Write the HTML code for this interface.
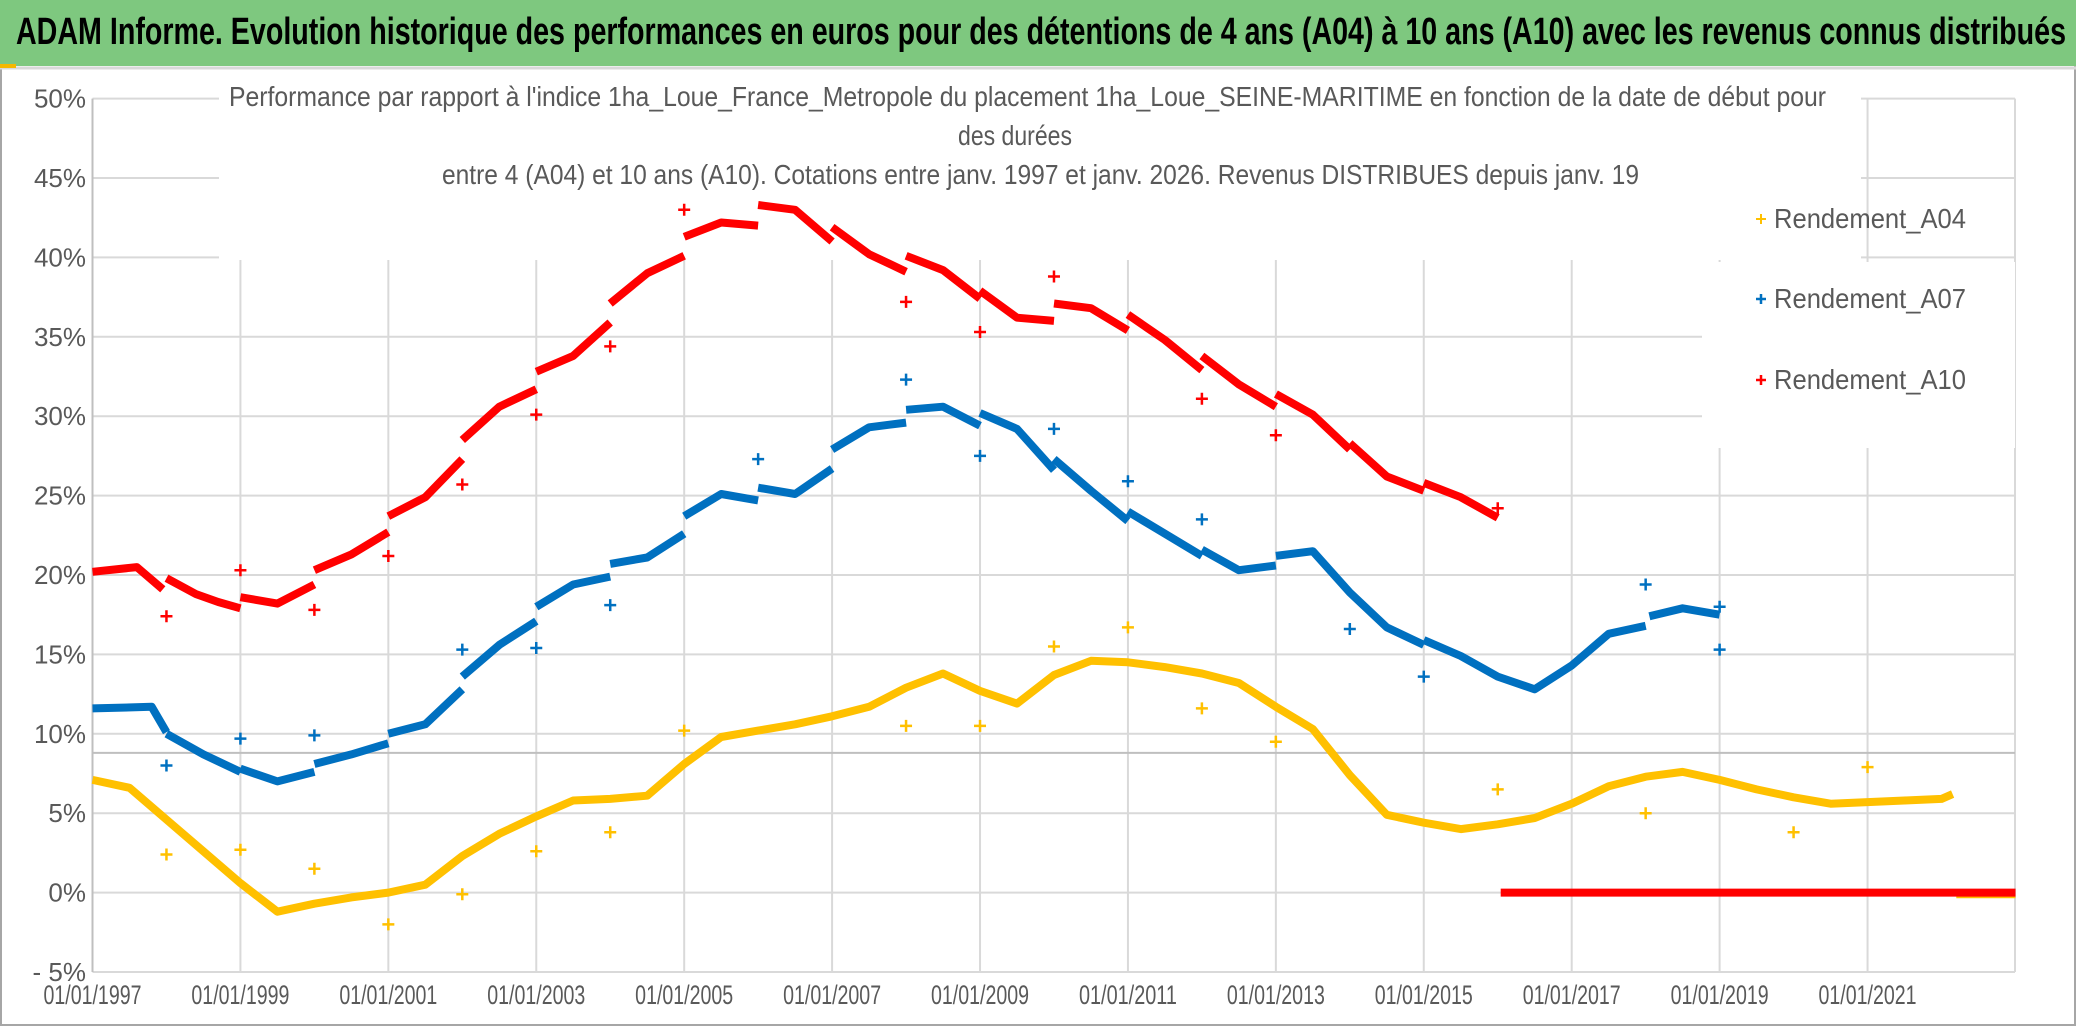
<!DOCTYPE html>
<html><head><meta charset="utf-8"><style>
html,body{margin:0;padding:0;background:#fff;}
svg{display:block;}
text{font-family:"Liberation Sans Narrow","Liberation Sans",sans-serif;}
</style></head><body>
<svg id="chart" width="2086" height="1031" viewBox="0 0 2086 1031" xmlns="http://www.w3.org/2000/svg">
<rect x="0" y="0" width="2086" height="1031" fill="#fff"/>
<rect x="1" y="1" width="2074" height="1024" fill="none" stroke="#a6a6a6" stroke-width="2"/>
<rect x="0" y="0" width="2076" height="66" fill="#7ec87f"/>
<line x1="0" y1="68" x2="2076" y2="68" stroke="#d9d9d9" stroke-width="3"/>
<rect x="0" y="64" width="16" height="4" fill="#f5b800"/>
<text x="16" y="44" font-size="38" font-weight="bold" fill="#000" textLength="2050" lengthAdjust="spacingAndGlyphs">ADAM Informe. Evolution historique des performances en euros pour des détentions de 4 ans (A04) à 10 ans (A10) avec les revenus connus distribués</text>
<g id="grid"></g>
<g id="axes"></g>
<rect x="219" y="76" width="1642" height="184" fill="#fff"/>
<rect x="1702" y="262" width="313" height="186" fill="#fff"/>
<g fill="#595959" font-size="28">
<text x="229" y="106" textLength="1597" lengthAdjust="spacingAndGlyphs">Performance  par rapport à l'indice 1ha_Loue_France_Metropole  du placement 1ha_Loue_SEINE-MARITIME en fonction de la date de début pour</text>
<text x="958" y="145" textLength="114" lengthAdjust="spacingAndGlyphs">des durées</text>
<text x="442" y="184" textLength="1197" lengthAdjust="spacingAndGlyphs">entre 4 (A04) et 10 ans (A10). Cotations entre janv. 1997 et janv. 2026. Revenus DISTRIBUES depuis janv. 19</text>
</g>
<g id="series"></g>
<g font-size="28" fill="#595959">
<g>
<path d="M1756 219 h10 M1761 214 v10" stroke="#ffc000" stroke-width="2"/>
<text x="1774" y="219" dy="9" textLength="192" lengthAdjust="spacingAndGlyphs">Rendement_A04</text></g>
<g>
<path d="M1756 299 h10 M1761 294 v10" stroke="#0070c0" stroke-width="2.5"/>
<text x="1774" y="299" dy="9" textLength="192" lengthAdjust="spacingAndGlyphs">Rendement_A07</text></g>
<g>
<path d="M1756 380 h10 M1761 375 v10" stroke="#ff0000" stroke-width="2.5"/>
<text x="1774" y="380" dy="9" textLength="192" lengthAdjust="spacingAndGlyphs">Rendement_A10</text></g>
</g>
</svg>
<script>
// ---- data (decimal years, percent). null = break between segments ----
const yTicks = [-5,0,5,10,15,20,25,30,35,40,45,50];
const yTickLabels = ["- 5%","0%","5%","10%","15%","20%","25%","30%","35%","40%","45%","50%"];
const xTicks = [1997,1999,2001,2003,2005,2007,2009,2011,2013,2015,2017,2019,2021];
const xTickLabels = ["01/01/1997","01/01/1999","01/01/2001","01/01/2003","01/01/2005","01/01/2007","01/01/2009","01/01/2011","01/01/2013","01/01/2015","01/01/2017","01/01/2019","01/01/2021"];
const refLineValue = 8.8;

const a10Dates = [1997.0,1997.6,1997.95,null,1998.0,1998.4,1998.7,1999.0,null,1999.0,1999.5,2000.0,null,2000.0,2000.5,2001.0,null,2001.0,2001.5,2002.0,null,2002.0,2002.5,2003.0,null,2003.0,2003.5,2004.0,null,2004.0,2004.5,2005.0,null,2005.0,2005.5,2006.0,null,2006.0,2006.5,2007.0,null,2007.0,2007.5,2008.0,null,2008.0,2008.5,2009.0,null,2009.0,2009.5,2010.0,null,2010.0,2010.5,2011.0,null,2011.0,2011.5,2012.0,null,2012.0,2012.5,2013.0,null,2013.0,2013.5,2014.0,null,2014.0,2014.5,2015.0,null,2015.0,2015.5,2016.0,null,2016.04,2023.0];
const a10Values = [20.2,20.5,19.1,null,19.8,18.8,18.3,17.9,null,18.6,18.2,19.4,null,20.3,21.3,22.7,null,23.7,24.9,27.3,null,28.5,30.6,31.7,null,32.8,33.8,35.9,null,37.1,39.0,40.1,null,41.3,42.2,42.0,null,43.3,43.0,41.0,null,41.9,40.2,39.1,null,40.1,39.2,37.4,null,37.9,36.2,36.0,null,37.1,36.8,35.4,null,36.4,34.8,32.9,null,33.8,32.0,30.6,null,31.4,30.1,27.9,null,28.3,26.2,25.3,null,25.8,24.9,23.6,null,0,0];
const a10OutDates = [1998.0,1999.0,2000.0,2001.0,2002.0,2003.0,2004.0,2005.0,2008.0,2009.0,2010.0,2012.0,2013.0,2016.0];
const a10OutValues = [17.4,20.3,17.8,21.2,25.7,30.1,34.4,43.0,37.2,35.3,38.8,31.1,28.8,24.2];

const a07Dates = [1997.0,1997.8,1998.0,null,1998.0,1998.5,1999.0,null,1999.0,1999.5,2000.0,null,2000.0,2000.5,2001.0,null,2001.0,2001.5,2002.0,null,2002.0,2002.5,2003.0,null,2003.0,2003.5,2004.0,null,2004.0,2004.5,2005.0,null,2005.0,2005.5,2006.0,null,2006.0,2006.5,2007.0,null,2007.0,2007.5,2008.0,null,2008.0,2008.5,2009.0,null,2009.0,2009.5,2010.0,null,2010.0,2010.5,2011.0,null,2011.0,2011.5,2012.0,null,2012.0,2012.5,2013.0,null,2013.0,2013.5,2014.0,2014.5,2015.0,null,2015.0,2015.5,2016.0,2016.5,2017.0,2017.5,2018.0,null,2018.05,2018.5,2019.0];
const a07Values = [11.6,11.7,10.1,null,10.0,8.7,7.6,null,7.8,7.0,7.6,null,8.1,8.7,9.4,null,10.0,10.6,12.8,null,13.6,15.6,17.1,null,18.0,19.4,19.9,null,20.7,21.1,22.6,null,23.7,25.1,24.7,null,25.5,25.1,26.7,null,27.9,29.3,29.6,null,30.4,30.6,29.4,null,30.2,29.2,26.6,null,27.3,25.3,23.4,null,24.0,22.6,21.2,null,21.6,20.3,20.6,null,21.2,21.5,18.9,16.7,15.6,null,15.9,14.9,13.6,12.8,14.3,16.3,16.8,null,17.4,17.9,17.5];
const a07OutDates = [1998.0,1999.0,2000.0,2002.0,2003.0,2004.0,2006.0,2008.0,2009.0,2010.0,2011.0,2012.0,2014.0,2015.0,2018.0,2019.0,2019.0];
const a07OutValues = [8.0,9.7,9.9,15.3,15.4,18.1,27.3,32.3,27.5,29.2,25.9,23.5,16.6,13.6,19.4,15.3,18.0];

const a04Dates = [1997.0,1997.5,1998.0,1998.5,1999.0,1999.5,2000.0,2000.5,2001.0,2001.5,2002.0,2002.5,2003.0,2003.5,2004.0,2004.5,2005.0,2005.5,2006.0,2006.5,2007.0,2007.5,2008.0,2008.5,2009.0,2009.5,2010.0,2010.5,2011.0,2011.5,2012.0,2012.5,2013.0,2013.5,2014.0,2014.5,2015.0,2015.5,2016.0,2016.5,2017.0,2017.5,2018.0,2018.5,2019.0,2019.5,2020.0,2020.5,2021.0,2021.5,2022.0,2022.15,null,2022.2,2023.0];
const a04Values = [7.1,6.6,4.6,2.6,0.6,-1.2,-0.7,-0.3,0.0,0.5,2.3,3.7,4.8,5.8,5.9,6.1,8.1,9.8,10.2,10.6,11.1,11.7,12.9,13.8,12.7,11.9,13.7,14.6,14.5,14.2,13.8,13.2,11.7,10.3,7.4,4.9,4.4,4.0,4.3,4.7,5.6,6.7,7.3,7.6,7.1,6.5,6.0,5.6,5.7,5.8,5.9,6.2,null,-0.1,-0.1];
const a04OutDates = [1998.0,1999.0,2000.0,2001.0,2002.0,2003.0,2004.0,2005.0,2008.0,2009.0,2010.0,2011.0,2012.0,2013.0,2016.0,2018.0,2020.0,2021.0];
const a04OutValues = [2.4,2.7,1.5,-2.0,-0.1,2.6,3.8,10.2,10.5,10.5,15.5,16.7,11.6,9.5,6.5,5.0,3.8,7.9];

// ---- scales ----
const X0 = 92.5, PX_PER_YEAR = 73.96, XMAX = 2015;
const Y0 = 892.6, PX_PER_PCT = 15.88;
function xScale(d){ return X0 + (d - 1997) * PX_PER_YEAR; }
function yScale(v){ return Y0 - v * PX_PER_PCT; }

const NS = "http://www.w3.org/2000/svg";
const grid = document.getElementById('grid');
const axes = document.getElementById('axes');
const series = document.getElementById('series');

yTicks.forEach((t, i) => {
  const y = yScale(t);
  const ln = document.createElementNS(NS, 'line');
  
  
  ln.setAttribute('x1', X0); ln.setAttribute('x2', XMAX);
  ln.setAttribute('y1', y); ln.setAttribute('y2', y);
  ln.setAttribute('stroke', '#d9d9d9'); ln.setAttribute('stroke-width', '2');
  grid.appendChild(ln);
  const tx = document.createElementNS(NS, 'text');
  
  
  tx.setAttribute('x', 86); tx.setAttribute('y', y + 9);
  tx.setAttribute('text-anchor', 'end'); tx.setAttribute('font-size', '26');
  tx.setAttribute('fill', '#595959');
  tx.textContent = yTickLabels[i];
  axes.appendChild(tx);
});
xTicks.forEach((t, i) => {
  const x = xScale(t);
  if (i > 0) {
    const ln = document.createElementNS(NS, 'line');
    
    
    ln.setAttribute('x1', x); ln.setAttribute('x2', x);
    ln.setAttribute('y1', yScale(50)); ln.setAttribute('y2', yScale(-5));
    ln.setAttribute('stroke', '#d9d9d9'); ln.setAttribute('stroke-width', '2');
    grid.appendChild(ln);
  }
  const tx = document.createElementNS(NS, 'text');
  
  
  tx.setAttribute('x', x); tx.setAttribute('y', 1004);
  tx.setAttribute('text-anchor', 'middle'); tx.setAttribute('font-size', '27');
  tx.setAttribute('fill', '#595959');
  tx.setAttribute('textLength', '98');
  tx.setAttribute('lengthAdjust', 'spacingAndGlyphs');
  tx.textContent = xTickLabels[i];
  axes.appendChild(tx);
});
const lastGrid = document.createElementNS(NS, 'line');


lastGrid.setAttribute('x1', XMAX); lastGrid.setAttribute('x2', XMAX);
lastGrid.setAttribute('y1', yScale(50)); lastGrid.setAttribute('y2', yScale(-5));
lastGrid.setAttribute('stroke', '#d9d9d9'); lastGrid.setAttribute('stroke-width', '2');
grid.appendChild(lastGrid);
const yAxis = document.createElementNS(NS, 'line');


yAxis.setAttribute('x1', X0); yAxis.setAttribute('x2', X0);
yAxis.setAttribute('y1', yScale(50)); yAxis.setAttribute('y2', yScale(-5));
yAxis.setAttribute('stroke', '#bfbfbf'); yAxis.setAttribute('stroke-width', '2');
axes.appendChild(yAxis);
const refLine = document.createElementNS(NS, 'line');


refLine.setAttribute('x1', X0); refLine.setAttribute('x2', XMAX);
refLine.setAttribute('y1', yScale(refLineValue)); refLine.setAttribute('y2', yScale(refLineValue));
refLine.setAttribute('stroke', '#bfbfbf'); refLine.setAttribute('stroke-width', '2');
axes.appendChild(refLine);

function drawSeries(dates, values, outD, outV, color, name) {
  const g = document.createElementNS(NS, 'g');
  
  
  let pts = [];
  const flush = () => {
    if (pts.length > 1) {
      const pl = document.createElementNS(NS, 'polyline');
      
      
      pl.setAttribute('points', pts.join(' '));
      pl.setAttribute('fill', 'none'); pl.setAttribute('stroke', color);
      pl.setAttribute('stroke-width', '8'); pl.setAttribute('stroke-linejoin', 'round');
      pl.setAttribute('stroke-linecap', 'butt');
      g.appendChild(pl);
    }
    pts = [];
  };
  for (let i = 0; i < dates.length; i++) {
    if (dates[i] === null) { flush(); continue; }
    pts.push(xScale(dates[i]).toFixed(1) + ',' + yScale(values[i]).toFixed(1));
  }
  flush();
  for (let i = 0; i < outD.length; i++) {
    const x = xScale(outD[i]), y = yScale(outV[i]);
    const p = document.createElementNS(NS, 'path');
    
    
    p.setAttribute('d', `M${x-6} ${y} h12 M${x} ${y-6} v12`);
    p.setAttribute('stroke', color); p.setAttribute('stroke-width', '2.5');
    g.appendChild(p);
  }
  series.appendChild(g);
}
drawSeries(a04Dates, a04Values, a04OutDates, a04OutValues, '#ffc000', 'series-a04');
drawSeries(a07Dates, a07Values, a07OutDates, a07OutValues, '#0070c0', 'series-a07');
drawSeries(a10Dates, a10Values, a10OutDates, a10OutValues, '#ff0000', 'series-a10');
</script>
</body></html>
